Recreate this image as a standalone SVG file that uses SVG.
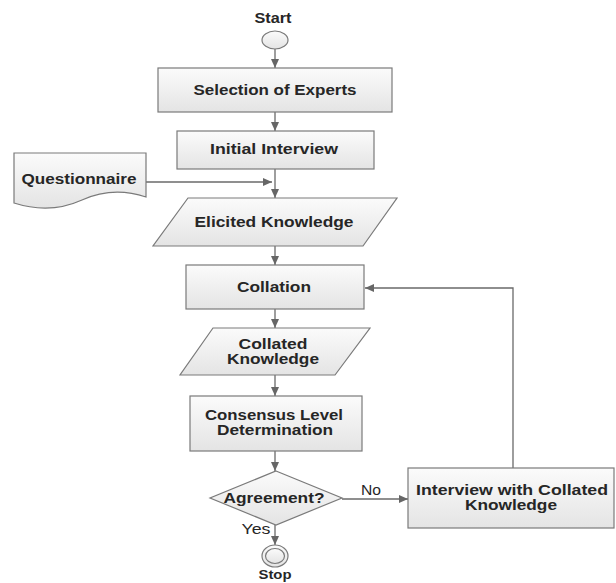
<svg xmlns="http://www.w3.org/2000/svg" width="616" height="583" viewBox="0 0 616 583">
<defs>
<linearGradient id="g" x1="0" y1="0" x2="0" y2="1">
<stop offset="0" stop-color="#fbfbfb"/>
<stop offset="1" stop-color="#e4e4e4"/>
</linearGradient>
<marker id="a" markerUnits="userSpaceOnUse" markerWidth="10" markerHeight="10" refX="9" refY="4" orient="auto">
<path d="M0,0 L9,4 L0,8 Z" fill="#666"/>
</marker>
<style>
.s{fill:url(#g);stroke:#7a7a7a;stroke-width:1.2}
.t{font-family:"Liberation Sans",Arial,sans-serif;font-size:14px;font-weight:bold;fill:#262626;text-anchor:middle}
.l{font-family:"Liberation Sans",Arial,sans-serif;font-size:14px;fill:#262626;text-anchor:middle}
.c{fill:none;stroke:#6a6a6a;stroke-width:1.3}
</style>
</defs>
<rect width="616" height="583" fill="#fff"/>
<g id="connectors">
<path class="c" d="M275,49 V68" marker-end="url(#a)"/>
<path class="c" d="M275,112 V131" marker-end="url(#a)"/>
<path class="c" d="M275,169 V198" marker-end="url(#a)"/>
<path class="c" d="M146,182 H272" marker-end="url(#a)"/>
<path class="c" d="M275,246 V265" marker-end="url(#a)"/>
<path class="c" d="M275,309 V328" marker-end="url(#a)"/>
<path class="c" d="M275,375 V396" marker-end="url(#a)"/>
<path class="c" d="M275,451 V471" marker-end="url(#a)"/>
<path class="c" d="M342,499 H408" marker-end="url(#a)"/>
<path class="c" d="M513,468 V288 H365" marker-end="url(#a)"/>
<path class="c" d="M275,525 V545" marker-end="url(#a)"/>
<text class="l" x="371" y="495" textLength="20" lengthAdjust="spacingAndGlyphs">No</text>
<text class="l" x="256" y="534" textLength="29" lengthAdjust="spacingAndGlyphs">Yes</text>
</g>
<g id="start">
<text class="t" x="273" y="23" textLength="37" lengthAdjust="spacingAndGlyphs">Start</text>
<ellipse class="s" cx="275" cy="40" rx="13" ry="9"/>
</g>
<g id="selection">
<rect class="s" x="158" y="68" width="234" height="44"/>
<text class="t" x="275" y="95" textLength="163" lengthAdjust="spacingAndGlyphs">Selection of Experts</text>
</g>
<g id="initial">
<rect class="s" x="177" y="131" width="197" height="38"/>
<text class="t" x="274" y="154" textLength="128" lengthAdjust="spacingAndGlyphs">Initial Interview</text>
</g>
<g id="questionnaire">
<path class="s" d="M14,153 H146 V197 C122,189 102,191 82,200 C60,210 36,210 14,203 Z"/>
<text class="t" x="79" y="184" textLength="115" lengthAdjust="spacingAndGlyphs">Questionnaire</text>
</g>
<g id="elicited">
<path class="s" d="M188,198 H397 L363,246 H153 Z"/>
<text class="t" x="274" y="227" textLength="159" lengthAdjust="spacingAndGlyphs">Elicited Knowledge</text>
</g>
<g id="collation">
<rect class="s" x="186" y="265" width="178" height="44"/>
<text class="t" x="274" y="292" textLength="74" lengthAdjust="spacingAndGlyphs">Collation</text>
</g>
<g id="collated">
<path class="s" d="M213,328 H370 L335,375 H180 Z"/>
<text class="t" x="273" y="349" textLength="69" lengthAdjust="spacingAndGlyphs">Collated</text>
<text class="t" x="273" y="364" textLength="92" lengthAdjust="spacingAndGlyphs">Knowledge</text>
</g>
<g id="consensus">
<rect class="s" x="190" y="396" width="172" height="55"/>
<text class="t" x="274" y="420" textLength="138" lengthAdjust="spacingAndGlyphs">Consensus Level</text>
<text class="t" x="275" y="435" textLength="116" lengthAdjust="spacingAndGlyphs">Determination</text>
</g>
<g id="agreement">
<path class="s" d="M276,471 L342,498 L276,525 L210,498 Z"/>
<text class="t" x="274" y="503" textLength="101" lengthAdjust="spacingAndGlyphs">Agreement?</text>
</g>
<g id="interview">
<rect class="s" x="408" y="468" width="206" height="60"/>
<text class="t" x="512" y="495" textLength="192" lengthAdjust="spacingAndGlyphs">Interview with Collated</text>
<text class="t" x="511" y="510" textLength="92" lengthAdjust="spacingAndGlyphs">Knowledge</text>
</g>
<g id="stop">
<ellipse class="s" cx="275" cy="556" rx="13" ry="11"/>
<ellipse class="s" cx="275" cy="556" rx="9.5" ry="7.5"/>
<text class="t" x="275" y="579" style="font-size:12px" textLength="33" lengthAdjust="spacingAndGlyphs">Stop</text>
</g>
</svg>
